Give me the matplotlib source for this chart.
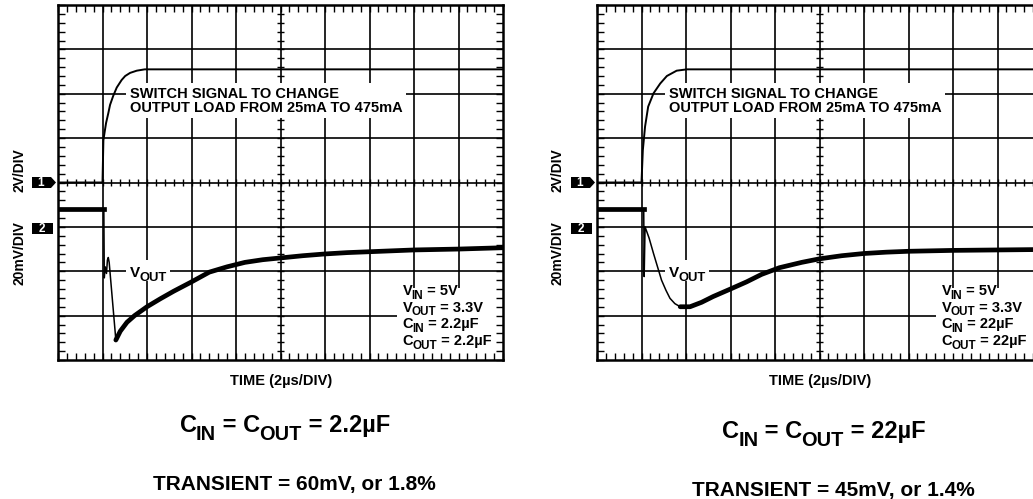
import numpy as np
import matplotlib.pyplot as plt
from matplotlib.patches import Polygon, Rectangle
from matplotlib.ticker import MultipleLocator
from matplotlib.transforms import IdentityTransform

plt.rcParams['font.family'] = ['Liberation Sans', 'DejaVu Sans']

W, H = 1033, 499

# traces, in divisions (x: 0..10, y: 0..8)
# left scope: CIN = COUT = 2.2uF
t_ch1_a = [0, 1.0, 1.02, 1.05, 1.08, 1.13, 1.17, 1.24, 1.32, 1.43, 1.51, 1.62, 1.77, 1.95, 10]
v_ch1_a = [4.0, 4.0, 4.95, 5.15, 5.34, 5.56, 5.75, 5.95, 6.14, 6.31, 6.4, 6.47, 6.52, 6.55, 6.55]
t_base_a = [0, 1.03]
v_base_a = [3.4, 3.4]
t_drop_a = [1.03, 1.04, 1.06, 1.09, 1.11, 1.13, 1.15, 1.30]
v_drop_a = [3.4, 1.85, 2.1, 1.95, 2.25, 2.31, 2.2, 0.45]
t_rec_a = [1.30, 1.40, 1.55, 1.72, 2.0, 2.3, 2.6, 3.0, 3.4, 3.8, 4.2, 4.6, 5.0,
           5.5, 6.0, 6.5, 7.0, 7.5, 8.0, 9.0, 10.0]
v_rec_a = [0.45, 0.65, 0.85, 1.0, 1.2, 1.38, 1.55, 1.76, 1.98, 2.1, 2.2, 2.26, 2.3,
           2.35, 2.39, 2.42, 2.44, 2.46, 2.48, 2.5, 2.53]

# right scope: CIN = COUT = 22uF
t_ch1_b = [0, 1.0, 1.03, 1.08, 1.15, 1.27, 1.42, 1.57, 1.79, 2.02, 10]
v_ch1_b = [4.0, 4.0, 4.73, 5.26, 5.71, 6.01, 6.23, 6.4, 6.52, 6.55, 6.55]
t_base_b = [0, 1.05]
v_base_b = [3.4, 3.4]
t_drop_b = [1.05, 1.06, 1.08, 1.17, 1.27, 1.36, 1.45, 1.55, 1.64, 1.75, 1.87]
v_drop_b = [3.4, 1.88, 3.0, 2.75, 2.4, 2.1, 1.8, 1.57, 1.39, 1.27, 1.2]
t_rec_b = [1.87, 2.09, 2.35, 2.61, 3.0, 3.36, 3.7, 4.1, 4.6, 5.0, 5.5, 6.0,
           6.5, 7.0, 7.5, 8.0, 9.0, 10.0]
v_rec_b = [1.2, 1.2, 1.3, 1.43, 1.6, 1.76, 1.93, 2.08, 2.2, 2.28, 2.35, 2.4,
           2.43, 2.45, 2.46, 2.47, 2.48, 2.49]

switch_text = 'SWITCH SIGNAL TO CHANGE\nOUTPUT LOAD FROM 25mA TO 475mA'
# (text, is_subscript) pieces
vout_label = [('V', 0), ('OUT', 1)]
params_a = [[('V', 0), ('IN', 1), (' = 5V', 0)],
            [('V', 0), ('OUT', 1), (' = 3.3V', 0)],
            [('C', 0), ('IN', 1), (' = 2.2µF', 0)],
            [('C', 0), ('OUT', 1), (' = 2.2µF', 0)]]
params_b = [[('V', 0), ('IN', 1), (' = 5V', 0)],
            [('V', 0), ('OUT', 1), (' = 3.3V', 0)],
            [('C', 0), ('IN', 1), (' = 22µF', 0)],
            [('C', 0), ('OUT', 1), (' = 22µF', 0)]]
caption_a = [[('C', 0), ('IN', 1), (' = C', 0), ('OUT', 1), (' = 2.2µF', 0)],
             [('TRANSIENT = 60mV, or 1.8%', 0)]]
caption_b = [[('C', 0), ('IN', 1), (' = C', 0), ('OUT', 1), (' = 22µF', 0)],
             [('TRANSIENT = 45mV, or 1.4%', 0)]]

fig = plt.figure(figsize=(W / 100, H / 100), dpi=100)
renderer = fig.canvas.get_renderer()


def fx(px):
    return px / W


def fy(py):
    return 1 - py / H


def rich(xp, yp, pieces, size, sub_scale=0.8, sub_shift=0.25, center=False):
    # xp, yp: display pixels of the baseline start (or centre)
    items = []
    pos = 0.0
    for n, (s, sub) in enumerate(pieces):
        fs = size * sub_scale if sub else size
        t = fig.text(0, 0, s, fontsize=fs, fontweight='bold', ha='left', va='baseline',
                     transform=IdentityTransform(), zorder=5)
        w = t.get_window_extent(renderer).width
        items.append((t, pos, -size * sub_shift * 100 / 72 if sub else 0))
        nxt_sub = n + 1 < len(pieces) and pieces[n + 1][1]
        pos += w - (1 if nxt_sub else 0)
    x = xp - pos / 2 if center else xp
    for t, off, dy in items:
        t.set_position((x + off, yp + dy))


def scope(x0, ch1, base, drop, rec, params, caption, cap_dy):
    ax = fig.add_axes([fx(x0), fy(360), 445 / W, 355 / H])
    ax.set_xlim(0, 10)
    ax.set_ylim(0, 8)
    ax.set_axisbelow(False)
    for s in ax.spines.values():
        s.set_linewidth(1.8)
    ax.xaxis.set_major_locator(MultipleLocator(1))
    ax.yaxis.set_major_locator(MultipleLocator(1))
    ax.xaxis.set_minor_locator(MultipleLocator(0.2))
    ax.yaxis.set_minor_locator(MultipleLocator(0.2))
    ax.tick_params(which='both', direction='in', length=5, width=1, top=True, right=True,
                   labelbottom=False, labelleft=False)

    # graticule
    for i in range(1, 10):
        ax.axvline(i, color='k', lw=1.2, zorder=1)
    for j in range(1, 8):
        ax.axhline(j, color='k', lw=1.2, zorder=1)
    xs = np.arange(0.2, 10, 0.2)
    ys = np.arange(0.2, 8, 0.2)
    ax.vlines(xs, 4 - 0.08, 4 + 0.08, color='k', lw=1, zorder=1)
    ax.hlines(ys, 5 - 0.08, 5 + 0.08, color='k', lw=1, zorder=1)

    ax.add_patch(Rectangle((7.62, 0), 2.38, 1.62, fc='white', ec='none', zorder=2))
    ax.add_patch(Rectangle((1.53, 1.78), 0.99, 0.47, fc='white', ec='none', zorder=2))

    # traces
    ax.plot(*ch1, color='k', lw=1.4, zorder=3)
    ax.plot(*base, color='k', lw=3.4, zorder=3)
    ax.plot(*drop, color='k', lw=1.1, zorder=3)
    ax.plot(*rec, color='k', lw=3.4, zorder=3, solid_capstyle='round')

    ax.text(1.62, 5.84, switch_text, fontsize=10.5, fontweight='bold', linespacing=1.0,
            va='center', ha='left', zorder=4,
            bbox=dict(boxstyle='square,pad=0.25', fc='white', ec='none'))

    px, py = ax.transData.transform((1.62, 1.87))
    rich(px, py, vout_label, 11, sub_scale=0.85, sub_shift=0.25)
    for k, line in enumerate(params):
        px, py = ax.transData.transform((7.74, 1.465 - k * 0.375))
        rich(px, py, line, 10.5, sub_scale=0.8, sub_shift=0.25)

    # channel markers and volts/div labels
    fig.patches.append(Polygon([(fx(x0 - 26), fy(177)), (fx(x0 - 7), fy(177)), (fx(x0 - 2), fy(182.5)),
                                (fx(x0 - 7), fy(188)), (fx(x0 - 26), fy(188))],
                               closed=True, fc='k', ec='none', transform=fig.transFigure))
    fig.patches.append(Rectangle((fx(x0 - 26), fy(234)), 21 / W, 11 / H, fc='k', ec='none',
                                 transform=fig.transFigure))
    fig.text(fx(x0 - 17), fy(182.5), '1', color='white', fontsize=8.5, fontweight='bold',
             ha='center', va='center')
    fig.text(fx(x0 - 16), fy(228.5), '2', color='white', fontsize=8.5, fontweight='bold',
             ha='center', va='center')
    fig.text(fx(x0 - 39), fy(170), '2V/DIV', rotation=90, fontsize=10, fontweight='bold',
             ha='center', va='center')
    fig.text(fx(x0 - 39), fy(253), '20mV/DIV', rotation=90, fontsize=10, fontweight='bold',
             ha='center', va='center')

    cx = x0 + 223
    fig.text(fx(cx), fy(385), 'TIME (2µs/DIV)', fontsize=10.5, fontweight='bold',
             ha='center', va='baseline')
    rich(cx + 4, H - (432 + cap_dy), caption[0], 17, sub_scale=0.85, sub_shift=0.36, center=True)
    rich(cx + 13, H - (490 + cap_dy), caption[1], 15, center=True)
    return ax


scope(58, (t_ch1_a, v_ch1_a), (t_base_a, v_base_a), (t_drop_a, v_drop_a), (t_rec_a, v_rec_a),
      params_a, caption_a, 0)
scope(597, (t_ch1_b, v_ch1_b), (t_base_b, v_base_b), (t_drop_b, v_drop_b), (t_rec_b, v_rec_b),
      params_b, caption_b, 6)

fig.savefig('out.png', dpi=100)
